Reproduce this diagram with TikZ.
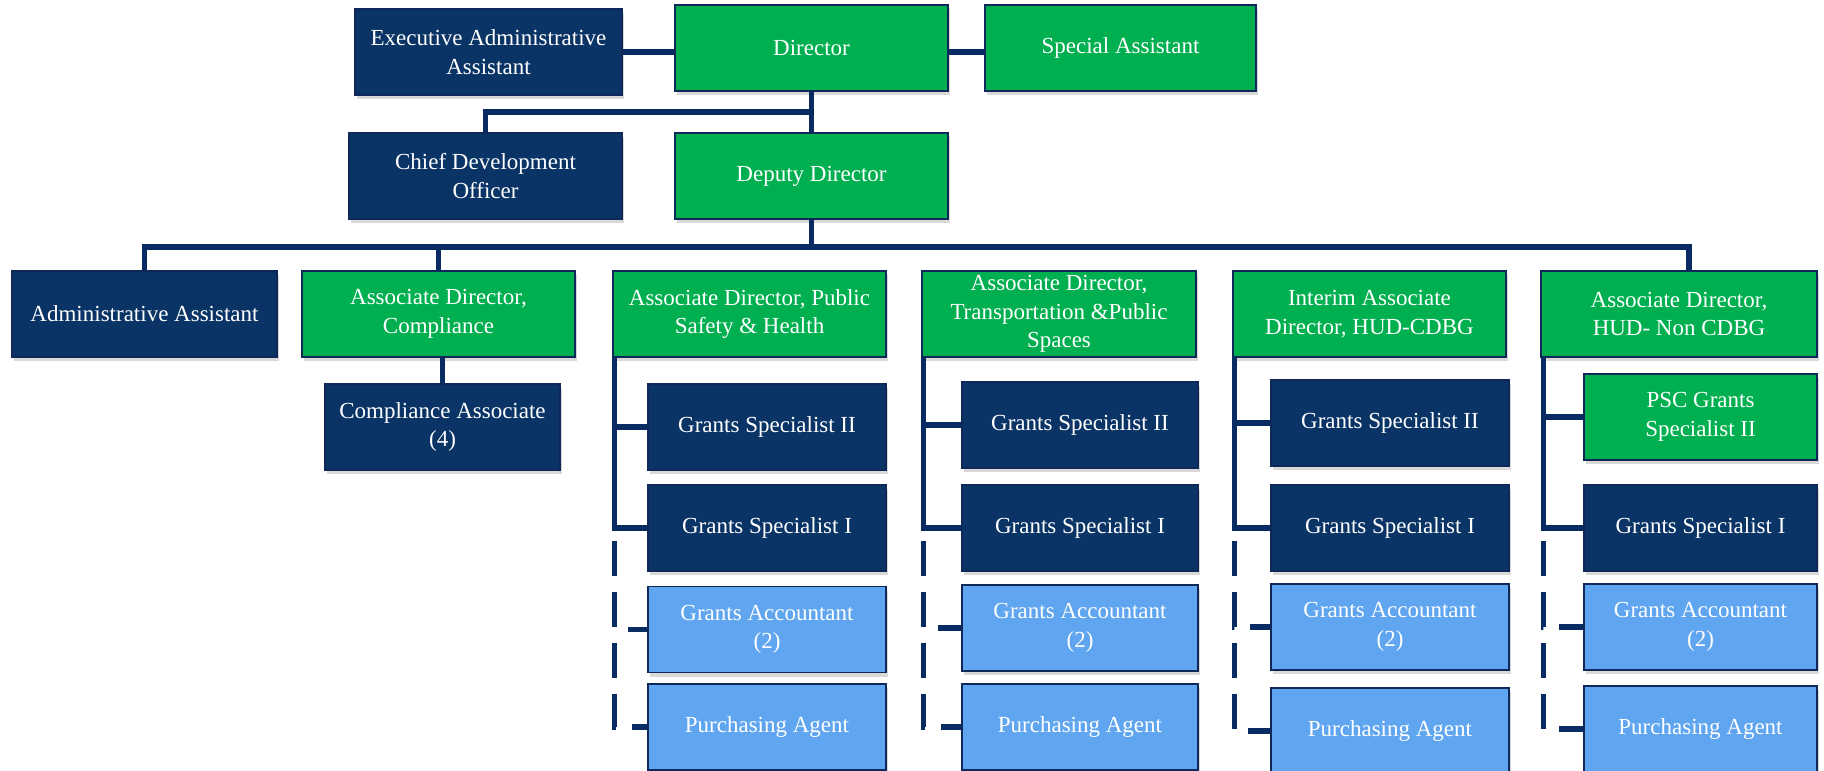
\documentclass[tikz,border=0pt]{standalone}
\usepackage{fontspec}
\setmainfont{Liberation Serif}
\usepackage{tikz}
\usetikzlibrary{calc,shadows}
\definecolor{navy}{RGB}{10,52,102}
\definecolor{boxline}{RGB}{14,40,90}
\definecolor{lead}{RGB}{0,176,80}
\definecolor{sky}{RGB}{96,165,240}
\definecolor{linkcol}{RGB}{8,44,98}

\begin{document}
\begin{tikzpicture}[x=1pt, y=-1pt]
\tikzset{unit/.style = {shape=rectangle, draw=boxline, line width=1.5pt, text=white, align=center,
        inner sep=2pt, minimum height=86pt, font=\fontsize{23}{28.5}\selectfont,
        drop shadow={shadow xshift=1.5pt, shadow yshift=-4pt, opacity=0.3}}}
\tikzset{staff/.style = {unit, fill=navy}}
\tikzset{head/.style = {unit, fill=lead}}
\tikzset{acct/.style = {unit, fill=sky}}
\tikzset{link/.style = {draw=linkcol, line width=5.5pt}}
\tikzset{dlink/.style = {link, dash pattern=on 35pt off 16pt}}
\useasboundingbox (0,0) rectangle (1824,771);

% top of the office
\node[staff, minimum width=267pt] (exec) at (488.5,52) {Executive Administrative\\Assistant};
\node[head, minimum width=273pt] (dir) at (811.5,48) {Director};
\node[head, minimum width=271pt] (sa) at (1120.5,48) {Special Assistant};
\node[staff, minimum width=273pt] (cdo) at (485.5,176) {Chief Development\\Officer};
\node[head, minimum width=273pt] (dep) at (811.5,176) {Deputy Director};

% associate directors
\node[staff, minimum width=265pt] (admin) at (144.5,314) {Administrative Assistant};
\node[head, minimum width=273pt] (comp) at (438.5,314) {Associate Director,\\Compliance};
\node[head, minimum width=273pt] (psh) at (749.5,314) {Associate Director, Public\\Safety \& Health};
\node[head, minimum width=274pt] (tps) at (1059,314) {Associate Director,\\Transportation \&Public\\Spaces};
\node[head, minimum width=273pt] (cdbg) at (1369.5,314) {Interim Associate\\Director, HUD-CDBG};
\node[head, minimum width=276pt] (hudn) at (1679,314) {Associate Director,\\HUD- Non CDBG};
\node[staff, minimum width=235pt] (ca) at (442.5,427) {Compliance Associate\\(4)};

% public safety & health
\node[staff, minimum width=238pt] (gs2a) at (767,427) {Grants Specialist II};
\node[staff, minimum width=238pt] (gs1a) at (767,528) {Grants Specialist I};
\node[acct, minimum width=238pt] (gaa) at (767,629.5) {Grants Accountant\\(2)};
\node[acct, minimum width=238pt] (paa) at (767,727) {Purchasing Agent};

% transportation & public spaces
\node[staff, minimum width=236pt] (gs2b) at (1080,425) {Grants Specialist II};
\node[staff, minimum width=236pt] (gs1b) at (1080,528) {Grants Specialist I};
\node[acct, minimum width=236pt] (gab) at (1080,628) {Grants Accountant\\(2)};
\node[acct, minimum width=236pt] (pab) at (1080,727) {Purchasing Agent};

% HUD-CDBG
\node[staff, minimum width=238pt] (gs2c) at (1390,423) {Grants Specialist II};
\node[staff, minimum width=238pt] (gs1c) at (1390,528) {Grants Specialist I};
\node[acct, minimum width=238pt] (gac) at (1390,627) {Grants Accountant\\(2)};
\node[acct, minimum width=238pt] (pac) at (1390,731) {Purchasing Agent};

% HUD- Non CDBG
\node[head, minimum width=233pt] (psc) at (1700.5,417) {PSC Grants\\Specialist II};
\node[staff, minimum width=233pt] (gs1d) at (1700.5,528) {Grants Specialist I};
\node[acct, minimum width=233pt] (gad) at (1700.5,627) {Grants Accountant\\(2)};
\node[acct, minimum width=233pt] (pad) at (1700.5,729) {Purchasing Agent};

% the lines between them
\coordinate (j1) at (811.5,112);
\coordinate (bus) at (811.5,247);
\draw[link] (exec.east) -- (exec.east -| dir.west);
\draw[link] (dir.east |- exec.east) -- (sa.west |- exec.east);
\draw[link] (dir.south) -- (dep.north);
\draw[link] (j1) -| (cdo.north);
\draw[link] (dep.south) -- (bus);
\draw[link] (admin.north) |- ($(hudn.north |- bus)+(10,0)$) -- ($(hudn.north)+(10,0)$);
\draw[link] (comp.north) -- (comp.north |- bus);
\draw[link] (ca.north |- comp.south) -- (ca.north);

\coordinate (c1) at ($(psh.south west)+(2,0)$);
\coordinate (c2) at ($(tps.south west)+(2,0)$);
\coordinate (c3) at ($(cdbg.south west)+(2,0)$);
\coordinate (c4) at ($(hudn.south west)+(3,0)$);

\draw[link] (c1) |- (gs2a.west);
\draw[link] (c1) |- (gs1a.west);
\draw[link] (c2) |- (gs2b.west);
\draw[link] (c2) |- (gs1b.west);
\draw[link] (c3) |- (gs2c.west);
\draw[link] (c3) |- (gs1c.west);
\draw[link] (c4) |- (psc.west);
\draw[link] (c4) |- (gs1d.west);

\coordinate (d1) at ($(c1 |- gs1a.west)+(0,13)$);
\coordinate (d2) at ($(c2 |- gs1b.west)+(0,13)$);
\coordinate (d3) at ($(c3 |- gs1c.west)+(0,13)$);
\coordinate (d4) at ($(c4 |- gs1d.west)+(0,13)$);
\draw[dlink] (d1) |- (gaa.west);
\draw[dlink] (d1) |- (paa.west);
\draw[dlink] (d2) |- (gab.west);
\draw[dlink] (d2) |- (pab.west);
\draw[dlink] (d3) |- (gac.west);
\draw[dlink] (d3) |- (pac.west);
\draw[dlink] (d4) |- (gad.west);
\draw[dlink] (d4) |- (pad.west);

\end{tikzpicture}
\end{document}
